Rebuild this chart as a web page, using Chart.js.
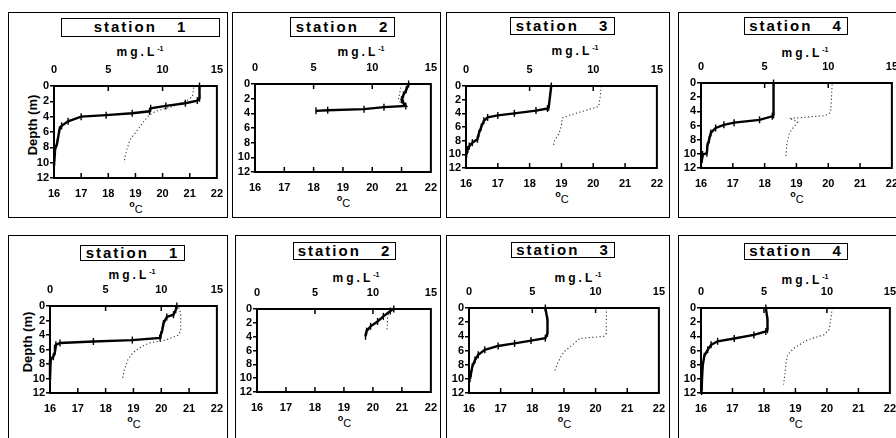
<!DOCTYPE html>
<html><head><meta charset="utf-8">
<script src="https://cdn.jsdelivr.net/npm/chart.js@4.4.0/dist/chart.umd.min.js"></script>
<style>
html,body{margin:0;padding:0;background:#fff;width:896px;height:438px;overflow:hidden;position:relative;font-family:"Liberation Sans",Arial,sans-serif;color:#000}
.box{position:absolute;border:1.5px solid #000;box-sizing:border-box}
.st{position:absolute;border:1.5px solid #000;box-sizing:border-box;font-weight:bold;font-size:15px;letter-spacing:2px;word-spacing:14px;text-align:center;white-space:nowrap}
.mg{position:absolute;font-weight:bold;font-size:12px;line-height:14px;letter-spacing:3px;white-space:nowrap;transform:translateX(-50%)}
.mg sup{font-size:7px;letter-spacing:0;vertical-align:5px;line-height:0}
.dc{position:absolute;transform:translateX(-50%);white-space:nowrap;line-height:12px}
.dc .o{font-weight:bold;font-size:9px;position:relative;top:-3px}
.dc .c{font-size:11px;position:relative;top:3px}
.dep{position:absolute;font-weight:bold;font-size:13px;line-height:14px;transform:translate(-50%,-50%) rotate(-90deg);white-space:nowrap}
canvas{position:absolute}
</style></head><body>
<script>
// ---- tick labels ----
const mgTicks = [0, 5, 10, 15];
const tempTicks = [16, 17, 18, 19, 20, 21, 22];
const depthTicks = [0, 2, 4, 6, 8, 10, 12];
const stationNames = ['station 1','station 2','station 3','station 4','station 1','station 2','station 3','station 4'];

// ---- top row: solid line (mg.L-1) and dotted line (°C) ----
const s1a_oxDepth = [0, 1.6, 1.9, 2.25, 2.6, 2.9, 3.3, 3.55, 3.8, 4.0, 4.6, 5.2, 5.7, 7.4, 8.3, 10.5];
const s1a_ox      = [13.4, 13.4, 13.2, 12.1, 10.3, 8.9, 8.8, 7.2, 4.8, 2.5, 1.3, 0.7, 0.5, 0.3, 0.1, 0];
const s1a_tDepth  = [0.2, 1.4, 2.0, 2.7, 3.3, 3.8, 4.85, 6.1, 7.0, 8.1, 9.4, 10.0];
const s1a_temp    = [21.15, 21.1, 20.85, 20.35, 19.75, 19.5, 19.26, 19.0, 18.8, 18.7, 18.6, 18.6];

const s2a_oxDepth = [0, 0.8, 1.5, 2.15, 2.6, 3.0, 3.16, 3.43, 3.57, 3.66];
const s2a_ox      = [13.1, 12.9, 12.66, 12.5, 12.66, 12.86, 11.0, 9.3, 6.2, 5.2];
const s2a_tDepth  = [0, 1, 2, 3];
const s2a_temp    = [21.0, 20.95, 20.9, 21.0];

const s3a_oxDepth = [0, 3.1, 3.3, 3.6, 4.0, 4.3, 4.6, 5.1, 6.0, 7.0, 7.8, 8.3, 8.8, 9.3, 10.0];
const s3a_ox      = [6.7, 6.5, 6.4, 5.5, 3.8, 2.5, 1.7, 1.4, 1.2, 1.0, 0.9, 0.5, 0.26, 0.13, 0.05];
const s3a_tDepth  = [0, 1.5, 3.0, 3.8, 4.3, 4.7, 5.8, 7.0, 8.0, 8.9];
const s3a_temp    = [20.25, 20.22, 20.17, 19.6, 19.23, 19.02, 19.0, 18.92, 18.78, 18.74];

const s4a_oxDepth = [0, 4.5, 4.7, 5.2, 5.6, 5.9, 6.35, 7.05, 8.0, 8.9, 9.9, 10.1, 10.8, 11.3];
const s4a_ox      = [5.7, 5.7, 5.6, 4.6, 2.6, 1.8, 1.15, 0.77, 0.64, 0.5, 0.46, 0.13, 0.08, 0];
const s4a_tDepth  = [0.2, 2.35, 4.2, 4.6, 4.9, 5.0, 5.5, 6.3, 7.05, 8.5, 9.9, 10.6];
const s4a_temp    = [20.12, 20.1, 20.07, 19.9, 19.1, 18.78, 19.04, 18.9, 18.78, 18.7, 18.68, 18.66];

// ---- bottom row ----
const s1b_oxDepth = [0, 0.5, 1.2, 1.5, 2.4, 3.3, 4.0, 4.4, 4.7, 4.9, 5.1, 5.35, 6.3, 7.0, 7.4, 10.2];
const s1b_ox      = [11.4, 11.3, 11.1, 10.5, 10.2, 10.1, 9.95, 9.9, 7.4, 3.9, 0.9, 0.53, 0.45, 0.3, 0.06, 0];
const s1b_tDepth  = [0.2, 1.0, 3.3, 4.0, 4.7, 5.1, 5.8, 6.5, 7.4, 8.8, 10.2];
const s1b_temp    = [20.63, 20.7, 20.7, 20.63, 20.16, 19.56, 19.2, 18.97, 18.8, 18.67, 18.6];

const s2b_oxDepth = [0, 0.3, 1.06, 1.8, 2.5, 3.2, 3.95];
const s2b_ox      = [11.8, 11.5, 10.9, 10.4, 9.8, 9.45, 9.36];
const s2b_tDepth  = [0.3, 1.0, 2.5, 3.2];
const s2b_temp    = [20.6, 20.5, 20.5, 20.47];

const s3b_oxDepth = [0, 1.66, 3.56, 4.27, 4.6, 5.0, 5.36, 5.9, 6.6, 7.35, 8.3, 9.25, 10.0];
const s3b_ox      = [6.03, 6.2, 6.2, 6.03, 4.9, 3.6, 2.3, 1.25, 0.73, 0.47, 0.26, 0.16, 0.08];
const s3b_tDepth  = [0, 3.56, 4.0, 4.3, 4.7, 5.45, 6.2, 6.9, 7.8, 9.0];
const s3b_temp    = [20.34, 20.34, 20.26, 19.5, 19.4, 19.2, 19.0, 18.9, 18.8, 18.7];

const s4b_oxDepth = [0, 1.65, 3.06, 3.3, 3.8, 4.3, 4.7, 5.2, 5.9, 6.8, 8.2, 10.1, 11.8];
const s4b_ox      = [5.15, 5.28, 5.28, 5.15, 4.2, 2.64, 1.32, 0.8, 0.53, 0.26, 0.13, 0.08, 0.05];
const s4b_tDepth  = [0, 1.65, 3.06, 3.8, 4.5, 5.65, 6.6, 7.8, 9.2, 10.8];
const s4b_temp    = [20.17, 20.12, 20.07, 19.9, 19.38, 18.96, 18.75, 18.7, 18.67, 18.62];

const panelData = [
  [s1a_oxDepth, s1a_ox, s1a_tDepth, s1a_temp],
  [s2a_oxDepth, s2a_ox, s2a_tDepth, s2a_temp],
  [s3a_oxDepth, s3a_ox, s3a_tDepth, s3a_temp],
  [s4a_oxDepth, s4a_ox, s4a_tDepth, s4a_temp],
  [s1b_oxDepth, s1b_ox, s1b_tDepth, s1b_temp],
  [s2b_oxDepth, s2b_ox, s2b_tDepth, s2b_temp],
  [s3b_oxDepth, s3b_ox, s3b_tDepth, s3b_temp],
  [s4b_oxDepth, s4b_ox, s4b_tDepth, s4b_temp]
];

// ---- page layout (positions only) ----
const layout = [
 {box:[8,12,220,206],   plot:[54,86,218,178],  st:[61,18,159,19],  mg:[140,45], dep:[33,125]},
 {box:[232,12,209,206], plot:[255,84,432,172], st:[290,17,105,20], mg:[361,45]},
 {box:[446,12,224,206], plot:[466,86,658,168], st:[510,17,105,18], mg:[575,44]},
 {box:[678,12,240,206], plot:[701,83,893,168], st:[744,17,104,18], mg:[805,46]},
 {box:[8,235,220,220],  plot:[50,306,218,393], st:[80,245,105,16], mg:[132,268], dep:[28,342]},
 {box:[235,235,206,220],plot:[257,309,432,392],st:[293,242,103,18], mg:[356,271]},
 {box:[446,235,224,220],plot:[469,308,660,393],st:[511,242,104,16], mg:[578,271]},
 {box:[678,235,240,220],plot:[701,308,891,393],st:[744,243,104,17], mg:[805,273]}
];

const M = {l:32, t:28, r:14, b:30};
const tickFont = {family:'"Liberation Sans", Arial, sans-serif', size:11, weight:'bold'};

const frame = {
  id:'frame',
  afterDraw(chart){
    const ctx = chart.ctx, a = chart.chartArea;
    ctx.save();
    ctx.strokeStyle = '#000';
    ctx.lineWidth = 2;
    ctx.strokeRect(a.left, a.top, a.right - a.left, a.bottom - a.top);
    ctx.lineWidth = 1.5;
    const xT = chart.scales.xT, xB = chart.scales.xB;
    ctx.beginPath();
    mgTicks.slice(1, -1).forEach(v => { const p = xT.getPixelForValue(v); ctx.moveTo(p, a.top); ctx.lineTo(p, a.top + 5); });
    tempTicks.slice(1, -1).forEach(v => { const p = xB.getPixelForValue(v); ctx.moveTo(p, a.bottom); ctx.lineTo(p, a.bottom - 5); });
    ctx.stroke();
    ctx.restore();
  }
};

function el(cls, css, html){
  const d = document.createElement('div');
  d.className = cls; Object.assign(d.style, css); d.innerHTML = html || '';
  document.body.appendChild(d); return d;
}

layout.forEach((L, i) => {
  el('box', {left:L.box[0]+'px', top:L.box[1]+'px', width:L.box[2]+'px', height:L.box[3]+'px'});
  el('st', {left:L.st[0]+'px', top:L.st[1]+'px', width:L.st[2]+'px', height:L.st[3]+'px', lineHeight:(L.st[3]-3)+'px'}, stationNames[i]);
  el('mg', {left:L.mg[0]+'px', top:L.mg[1]+'px'}, 'mg.L<sup>-1</sup>');
  if (L.dep) el('dep', {left:L.dep[0]+'px', top:L.dep[1]+'px'}, 'Depth (m)');
  const [pl, pt, pr, pb] = L.plot;
  el('dc', {left:((pl+pr)/2)+'px', top:(pb+21)+'px'}, '<span class="o">o</span><span class="c">C</span>');

  const cv = document.createElement('canvas');
  const W = pr - pl + M.l + M.r, H = pb - pt + M.t + M.b;
  cv.width = W; cv.height = H;
  Object.assign(cv.style, {left:(pl-M.l)+'px', top:(pt-M.t)+'px', width:W+'px', height:H+'px'});
  document.body.appendChild(cv);

  const [oD, ox, tD, tp] = panelData[i];
  new Chart(cv, {
    type:'scatter',
    data:{datasets:[
      {data: oD.map((d,k)=>({x:ox[k], y:d})), xAxisID:'xT', yAxisID:'y', showLine:true,
       borderColor:'#000', borderWidth:2.4, pointStyle:'line', rotation:90, pointRadius:3.5,
       pointBorderWidth:1.4, pointBorderColor:'#000', pointBackgroundColor:'#000', tension:0, clip:false},
      {data: tD.map((d,k)=>({x:tp[k], y:d})), xAxisID:'xB', yAxisID:'y', showLine:true,
       borderColor:'#333', borderWidth:1.1, borderDash:[1.2,2.4], pointRadius:0, tension:0, clip:false}
    ]},
    options:{
      responsive:false, animation:false, devicePixelRatio:1,
      layout:{padding:{left:0, top:0, right:M.r, bottom:0}},
      plugins:{legend:{display:false}, tooltip:{enabled:false}},
      scales:{
        y:{type:'linear', position:'left', reverse:true, min:depthTicks[0], max:depthTicks[depthTicks.length-1],
           afterBuildTicks:s=>{s.ticks = depthTicks.map(v=>({value:v}));},
           ticks:{font:tickFont, color:'#000', padding:1, autoSkip:false},
           grid:{display:true, drawOnChartArea:false, drawTicks:true, tickLength:4, color:'#000', lineWidth:1.5},
           border:{display:false}, afterFit:s=>{s.width = M.l;}},
        xT:{type:'linear', position:'top', min:mgTicks[0], max:mgTicks[mgTicks.length-1],
           afterBuildTicks:s=>{s.ticks = mgTicks.map(v=>({value:v}));},
           ticks:{font:tickFont, color:'#000', padding:9, autoSkip:false, maxRotation:0},
           grid:{display:false, drawTicks:false}, border:{display:false}, afterFit:s=>{s.height = M.t;}},
        xB:{type:'linear', position:'bottom', min:tempTicks[0], max:tempTicks[tempTicks.length-1],
           afterBuildTicks:s=>{s.ticks = tempTicks.map(v=>({value:v}));},
           ticks:{font:tickFont, color:'#000', padding:9, autoSkip:false, maxRotation:0},
           grid:{display:false, drawTicks:false}, border:{display:false}, afterFit:s=>{s.height = M.b;}}
      }
    },
    plugins:[frame]
  });
});
</script>
</body></html>
